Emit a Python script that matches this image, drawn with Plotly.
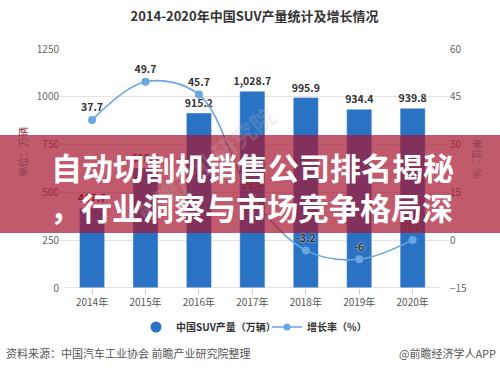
import plotly.graph_objects as go

# ---- data ----
years = ["2014年", "2015年", "2016年", "2017年", "2018年", "2019年", "2020年"]
production = [417.7, 628.1, 915.2, 1028.7, 995.9, 934.4, 939.8]
growth = [37.7, 49.7, 45.7, 13.4, -3.2, -6, 0.1]
left_ticks = [0, 250, 500, 750, 1000, 1250]
right_ticks = [-15, 0, 15, 30, 45, 60]

title_text = "2014-2020年中国SUV产量统计及增长情况"
bar_name = "中国SUV产量（万辆）"
line_name = "增长率（%）"
left_unit = "单位：万辆"
right_unit = "单位：%"
source_text = "资料来源：中国汽车工业协会 前瞻产业研究院整理"
credit_text = "@前瞻经济学人APP"
banner_lines = ["自动切割机销售公司排名揭秘", "，行业洞察与市场竞争格局深"]

FONT = "Noto Sans CJK SC, Noto Sans, sans-serif"
BAR_COLOR = "#2a72c4"
LINE_COLOR = "#6aa6e2"

W, H = 500, 369
L, R, T, B = 60, 51, 49, 81
plot_w = W - L - R
plot_h = H - T - B


def px_x(x):
    return (x - L) / plot_w


def px_y(y):
    return (H - B - y) / plot_h


fig = go.Figure()

fig.add_trace(go.Bar(
    x=years, y=production, name=bar_name, marker_color=BAR_COLOR,
    width=0.47, showlegend=False,
    texttemplate="%{y:,.1f}", textposition="outside", cliponaxis=False,
    constraintext="none",
    textfont=dict(family=FONT, size=10.5, color="#333333", weight="bold"),
))

fig.add_trace(go.Scatter(
    x=years, y=growth, name=line_name, yaxis="y2",
    mode="lines+markers+text", line=dict(color=LINE_COLOR, width=1.6, shape="spline", smoothing=1.0),
    marker=dict(size=8, color=LINE_COLOR),
    text=[str(g) for g in growth], textposition="top center", cliponaxis=False,
    textfont=dict(family=FONT, size=10.5, color="#333333", weight="bold",
                  shadow="0px 0px 2px white"),
    showlegend=False,
))

# legend proxies
fig.add_trace(go.Scatter(x=[None], y=[None], mode="markers", name=bar_name,
                         marker=dict(symbol="circle", size=11, color=BAR_COLOR)))
fig.add_trace(go.Scatter(x=[None], y=[None], mode="lines+markers", name=line_name,
                         line=dict(color=LINE_COLOR, width=1.6),
                         marker=dict(size=7, color=LINE_COLOR), yaxis="y2"))

fig.update_layout(
    width=W, height=H, margin=dict(l=L, r=R, t=T, b=B),
    paper_bgcolor="white", plot_bgcolor="white",
    font=dict(family=FONT, color="#555555"),
    title=dict(text=title_text, x=0.5, xref="paper", y=1 - 16 / H, yanchor="middle",
               font=dict(family=FONT, size=13, color="#333333", weight="bold")),
    xaxis=dict(type="category", range=[-0.6, 6.68], showgrid=False, showline=False,
               ticks="outside", ticklen=5, tickcolor="#cccccc", tickwidth=1,
               tickfont=dict(size=10, color="#555555"), zeroline=False),
    yaxis=dict(range=[0, 1250], tickvals=left_ticks, showgrid=True, gridcolor="#e3e3e3",
               gridwidth=1, zeroline=False, showline=False, ticks="",
               tickfont=dict(size=10, color="#666666")),
    yaxis2=dict(range=[-15, 60], tickvals=right_ticks, overlaying="y", side="right",
                showgrid=False, zeroline=False, showline=False, ticks="",
                tickfont=dict(size=10, color="#666666")),
    legend=dict(orientation="h", x=px_x(136), xanchor="left", y=px_y(327), yanchor="middle",
                font=dict(family=FONT, size=10, color="#333333", weight="bold"),
                itemwidth=30, entrywidth=86, entrywidthmode="pixels",
                bgcolor="rgba(0,0,0,0)"),
    bargap=0.5,
)

# x axis line
fig.add_shape(type="line", xref="x", yref="y", x0=-0.5, x1=6.5, y0=0, y1=0,
              line=dict(color="#c8c8c8", width=1))

# watermark
fig.add_annotation(text="前瞻产业研究院", xref="paper", yref="paper", x=px_x(205), y=px_y(95),
                   showarrow=False, textangle=-38,
                   font=dict(family=FONT, size=24, color="rgba(190,190,190,0.22)", weight="bold"))

# axis unit titles (tinted as under banner)
fig.add_annotation(text=left_unit, xref="paper", yref="paper", x=px_x(22), y=px_y(152),
                   xanchor="center", showarrow=False, textangle=-90,
                   font=dict(family=FONT, size=10, color="#8c3a4e"))
fig.add_annotation(text=right_unit, xref="paper", yref="paper", x=px_x(478), y=px_y(158),
                   xanchor="center", showarrow=False, textangle=90,
                   font=dict(family=FONT, size=10, color="#8c3a4e"))

# footer
fig.add_annotation(text=source_text, xref="paper", yref="paper", x=px_x(4), y=px_y(353),
                   xanchor="left", yanchor="middle", showarrow=False,
                   font=dict(family=FONT, size=11, color="#555555"))
fig.add_annotation(text=credit_text, xref="paper", yref="paper", x=px_x(498), y=px_y(353),
                   xanchor="right", yanchor="middle", showarrow=False,
                   font=dict(family=FONT, size=11, color="#555555"))

# banner
fig.add_shape(type="rect", xref="paper", yref="paper", x0=px_x(0), x1=px_x(500),
              y0=px_y(233), y1=px_y(135), layer="above", line=dict(width=0),
              fillcolor="rgba(168,20,48,0.70)")
fig.add_annotation(text=banner_lines[0], xref="paper", yref="paper", x=px_x(252), y=px_y(166),
                   xanchor="center", yanchor="middle", showarrow=False,
                   font=dict(family=FONT, size=31, color="white", weight="bold"))
fig.add_annotation(text=banner_lines[1], xref="paper", yref="paper", x=px_x(251), y=px_y(206),
                   xanchor="center", yanchor="middle", showarrow=False,
                   font=dict(family=FONT, size=31, color="white", weight="bold"))

fig.write_html("out.html", config={"displayModeBar": False},
               post_script="document.body.style.margin='0';document.body.style.padding='0';")
